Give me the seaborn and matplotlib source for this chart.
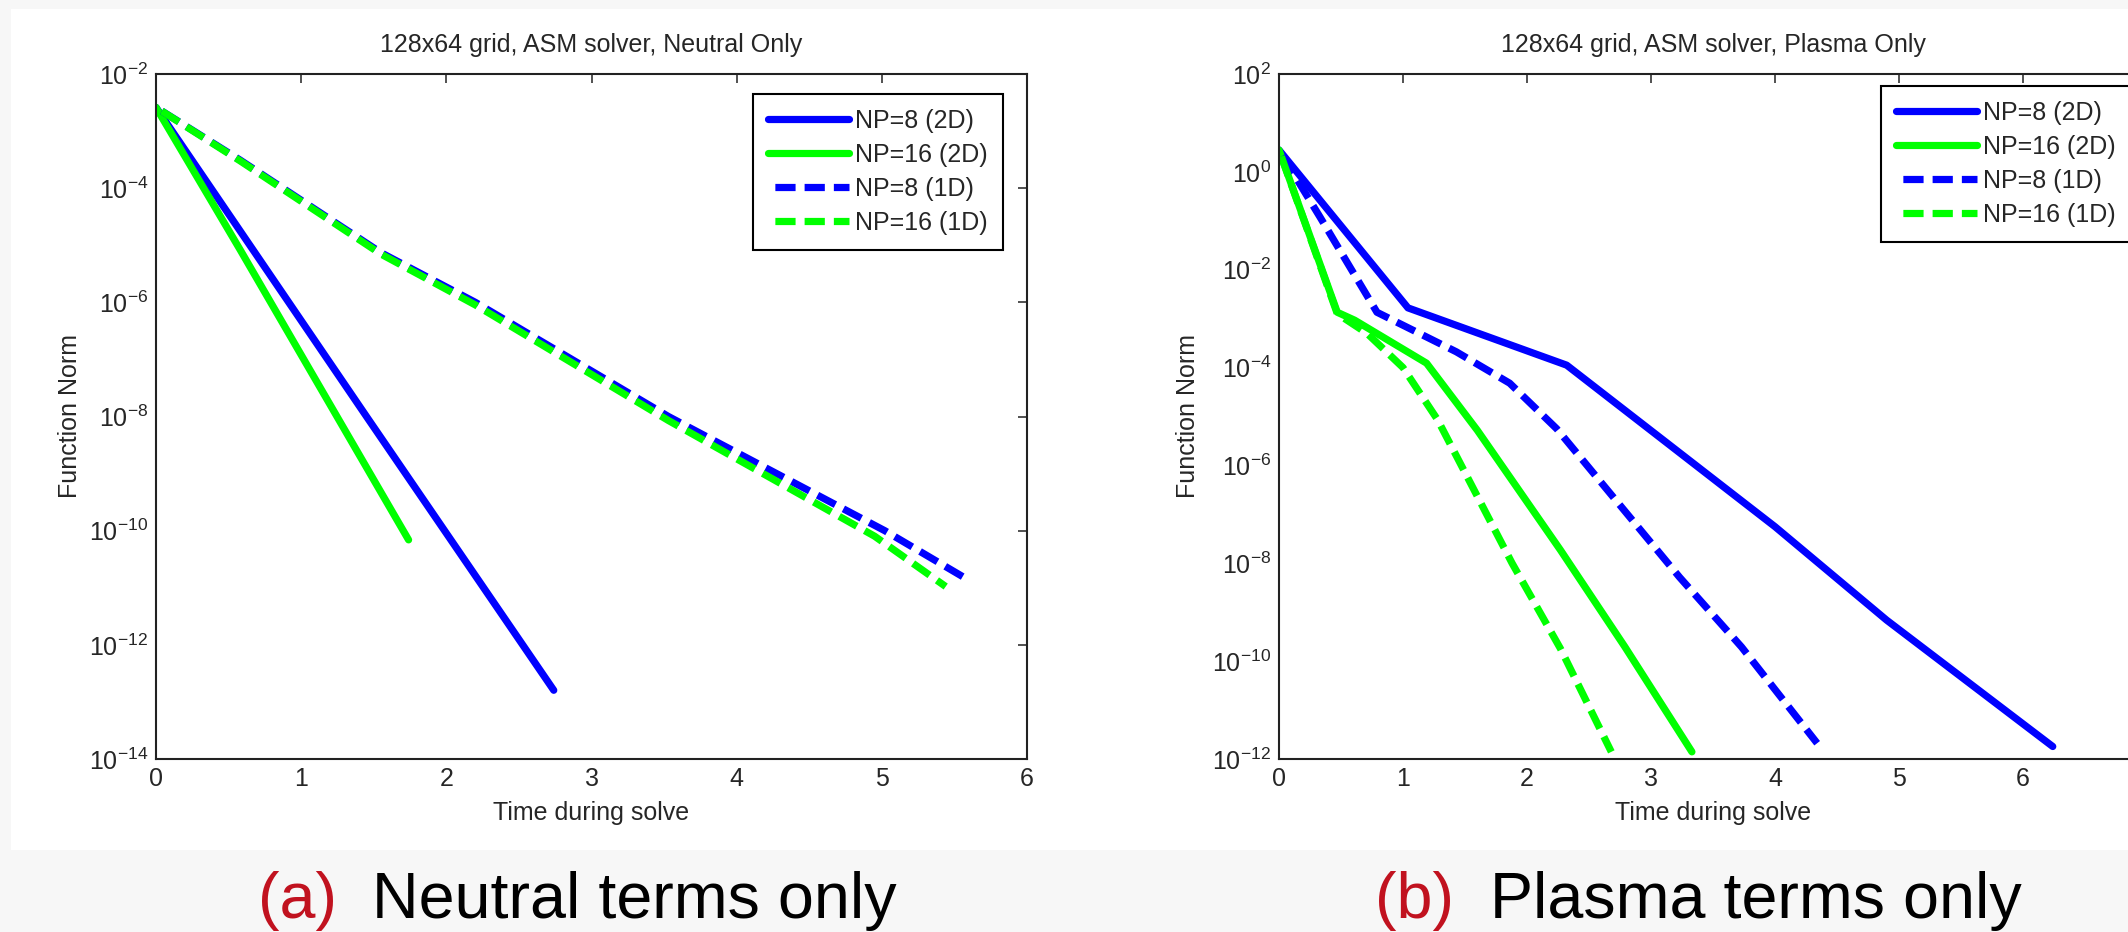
import matplotlib
matplotlib.use("Agg")
import matplotlib.pyplot as plt
from matplotlib.patches import Rectangle
from matplotlib.ticker import NullLocator, LogFormatterMathtext
import seaborn as sns

sns.set_style("white")
plt.rcParams['font.family'] = ['Liberation Sans', 'DejaVu Sans']

# ---- data ----
labels = ['NP=8 (2D)', 'NP=16 (2D)', 'NP=8 (1D)', 'NP=16 (1D)']
colors = ['#0000ff', '#00ff00', '#0000ff', '#00ff00']
dashed = [False, False, True, True]

# (a) neutral terms only
t_a_np8_2d = [0.0, 1.45, 2.74]
f_a_np8_2d = [2.6e-3, 1.0e-8, 1.6e-13]
t_a_np16_2d = [0.0, 0.58, 1.74]
f_a_np16_2d = [2.6e-3, 8.3e-6, 6.9e-11]
t_a_np8_1d = [0.0, 0.58, 1.55, 2.2, 3.53, 5.02, 5.56]
f_a_np8_1d = [2.6e-3, 3.1e-4, 7.4e-6, 1.0e-6, 1.0e-8, 1.0e-10, 1.55e-11]
t_a_np16_1d = [0.0, 0.58, 1.55, 2.2, 3.53, 4.95, 5.44]
f_a_np16_1d = [2.6e-3, 3.0e-4, 7.0e-6, 9.0e-7, 8.5e-9, 8.0e-11, 1.05e-11]

# (b) plasma terms only
t_b_np8_2d = [0.0, 1.04, 2.32, 4.0, 4.9, 6.24]
f_b_np8_2d = [2.8, 1.66e-3, 1.12e-4, 5.6e-8, 6.9e-10, 1.8e-12]
t_b_np16_2d = [0.0, 0.47, 0.61, 1.19, 1.6, 2.27, 2.79, 3.33]
f_b_np16_2d = [2.8, 1.35e-3, 9.3e-4, 1.23e-4, 5.2e-6, 1.86e-8, 1.95e-10, 1.4e-12]
t_b_np8_1d = [0.0, 0.33, 0.79, 1.43, 1.86, 2.24, 3.23, 3.73, 4.34]
f_b_np8_1d = [2.8, 1.2e-1, 1.35e-3, 2.1e-4, 4.8e-5, 5.6e-6, 5.2e-9, 1.95e-10, 2.1e-12]
t_b_np16_1d = [0.0, 0.47, 0.71, 1.0, 1.28, 1.88, 2.27, 2.68]
f_b_np16_1d = [2.8, 1.26e-3, 5.0e-4, 1.0e-4, 8.5e-6, 1.0e-8, 1.8e-10, 1.4e-12]

xticks_a = [0, 1, 2, 3, 4, 5, 6]
xlim_a = (0, 6)
xticks_b = [0, 1, 2, 3, 4, 5, 6]
xlim_b = (0, 7)
yexp_a = [-14, -12, -10, -8, -6, -4, -2]
yexp_b = [-12, -10, -8, -6, -4, -2, 0, 2]

title_a = '128x64 grid, ASM solver, Neutral Only'
title_b = '128x64 grid, ASM solver, Plasma Only'

# ---- figure ----
W, H = 2128, 932
fig = plt.figure(figsize=(W / 100, H / 100), dpi=100, facecolor='#f7f7f7')
fig.add_artist(Rectangle((11 / W, 1 - 850 / H), 1 - 11 / W, (850 - 9) / H,
                         transform=fig.transFigure, facecolor='white',
                         edgecolor='none', zorder=0))

ax_a = fig.add_axes([156 / W, 1 - 759 / H, 871 / W, 685 / H])
ax_b = fig.add_axes([1279 / W, 1 - 759 / H, 868 / W, 685 / H])


def draw_panel(ax, series, xticks, xlim, yexp, title):
    ax.set_yscale('log')
    for (t, f), lab, col, dsh in zip(series, labels, colors, dashed):
        ls = (3.1, (2.8, 1.25)) if dsh else '-'
        sns.lineplot(x=t, y=f, ax=ax, color=col, lw=5.2, linestyle=ls,
                     label=lab, sort=False, estimator=None)
    ax.set_xlim(*xlim)
    ax.set_xticks(xticks)
    ax.set_ylim(10.0 ** yexp[0], 10.0 ** yexp[-1])
    ax.set_yticks([10.0 ** e for e in yexp])
    ax.yaxis.set_minor_locator(NullLocator())
    ax.yaxis.set_major_formatter(LogFormatterMathtext())
    ax.tick_params(direction='in', length=6.5, width=1.1, top=True, right=True,
                   labelsize=18, color='#222222')
    ax.tick_params(axis='x', pad=6)
    ax.tick_params(axis='y', pad=5.5)
    for s in ax.spines.values():
        s.set_visible(True)
        s.set_linewidth(1.5)
        s.set_color('#222222')
    ax.set_title(title, fontsize=18, pad=16)
    ax.set_xlabel('Time during solve', fontsize=18)
    ax.set_ylabel('Function Norm', fontsize=18)


draw_panel(ax_a, [(t_a_np8_2d, f_a_np8_2d), (t_a_np16_2d, f_a_np16_2d),
                  (t_a_np8_1d, f_a_np8_1d), (t_a_np16_1d, f_a_np16_1d)],
           xticks_a, xlim_a, yexp_a, title_a)
draw_panel(ax_b, [(t_b_np8_2d, f_b_np8_2d), (t_b_np16_2d, f_b_np16_2d),
                  (t_b_np8_1d, f_b_np8_1d), (t_b_np16_1d, f_b_np16_1d)],
           xticks_b, xlim_b, yexp_b, title_b)

ax_a.xaxis.set_label_coords(0.5, -0.061)
ax_b.xaxis.set_label_coords(0.5, -0.061)
ax_a.yaxis.set_label_coords(-0.085, 0.5)
ax_b.yaxis.set_label_coords(-0.091, 0.5)

leg_kw = dict(fontsize=18, frameon=True, fancybox=False, edgecolor='black',
              handlelength=3.24, handletextpad=0.25, labelspacing=0.4,
              borderpad=0.6, borderaxespad=0, bbox_transform=fig.transFigure)
leg_a = ax_a.legend(loc='upper right', bbox_to_anchor=(1003 / W, 1 - 94 / H), **leg_kw)
leg_b = ax_b.legend(loc='upper left', bbox_to_anchor=(1881 / W, 1 - 86 / H), **leg_kw)
for leg in (leg_a, leg_b):
    leg.get_frame().set_linewidth(1.5)
    leg.get_frame().set_alpha(None)

# captions below the panels
red = '#c1121f'
fig.text(258 / W, 1 - 918 / H, '(a)', color=red, fontsize=46.5, va='baseline')
fig.text(372 / W, 1 - 918 / H, 'Neutral terms only', color='black', fontsize=46.5, va='baseline')
fig.text(1375 / W, 1 - 918 / H, '(b)', color=red, fontsize=46.5, va='baseline')
fig.text(1490 / W, 1 - 918 / H, 'Plasma terms only', color='black', fontsize=46.5, va='baseline')

fig.savefig('out.png', dpi=100, facecolor=fig.get_facecolor())
